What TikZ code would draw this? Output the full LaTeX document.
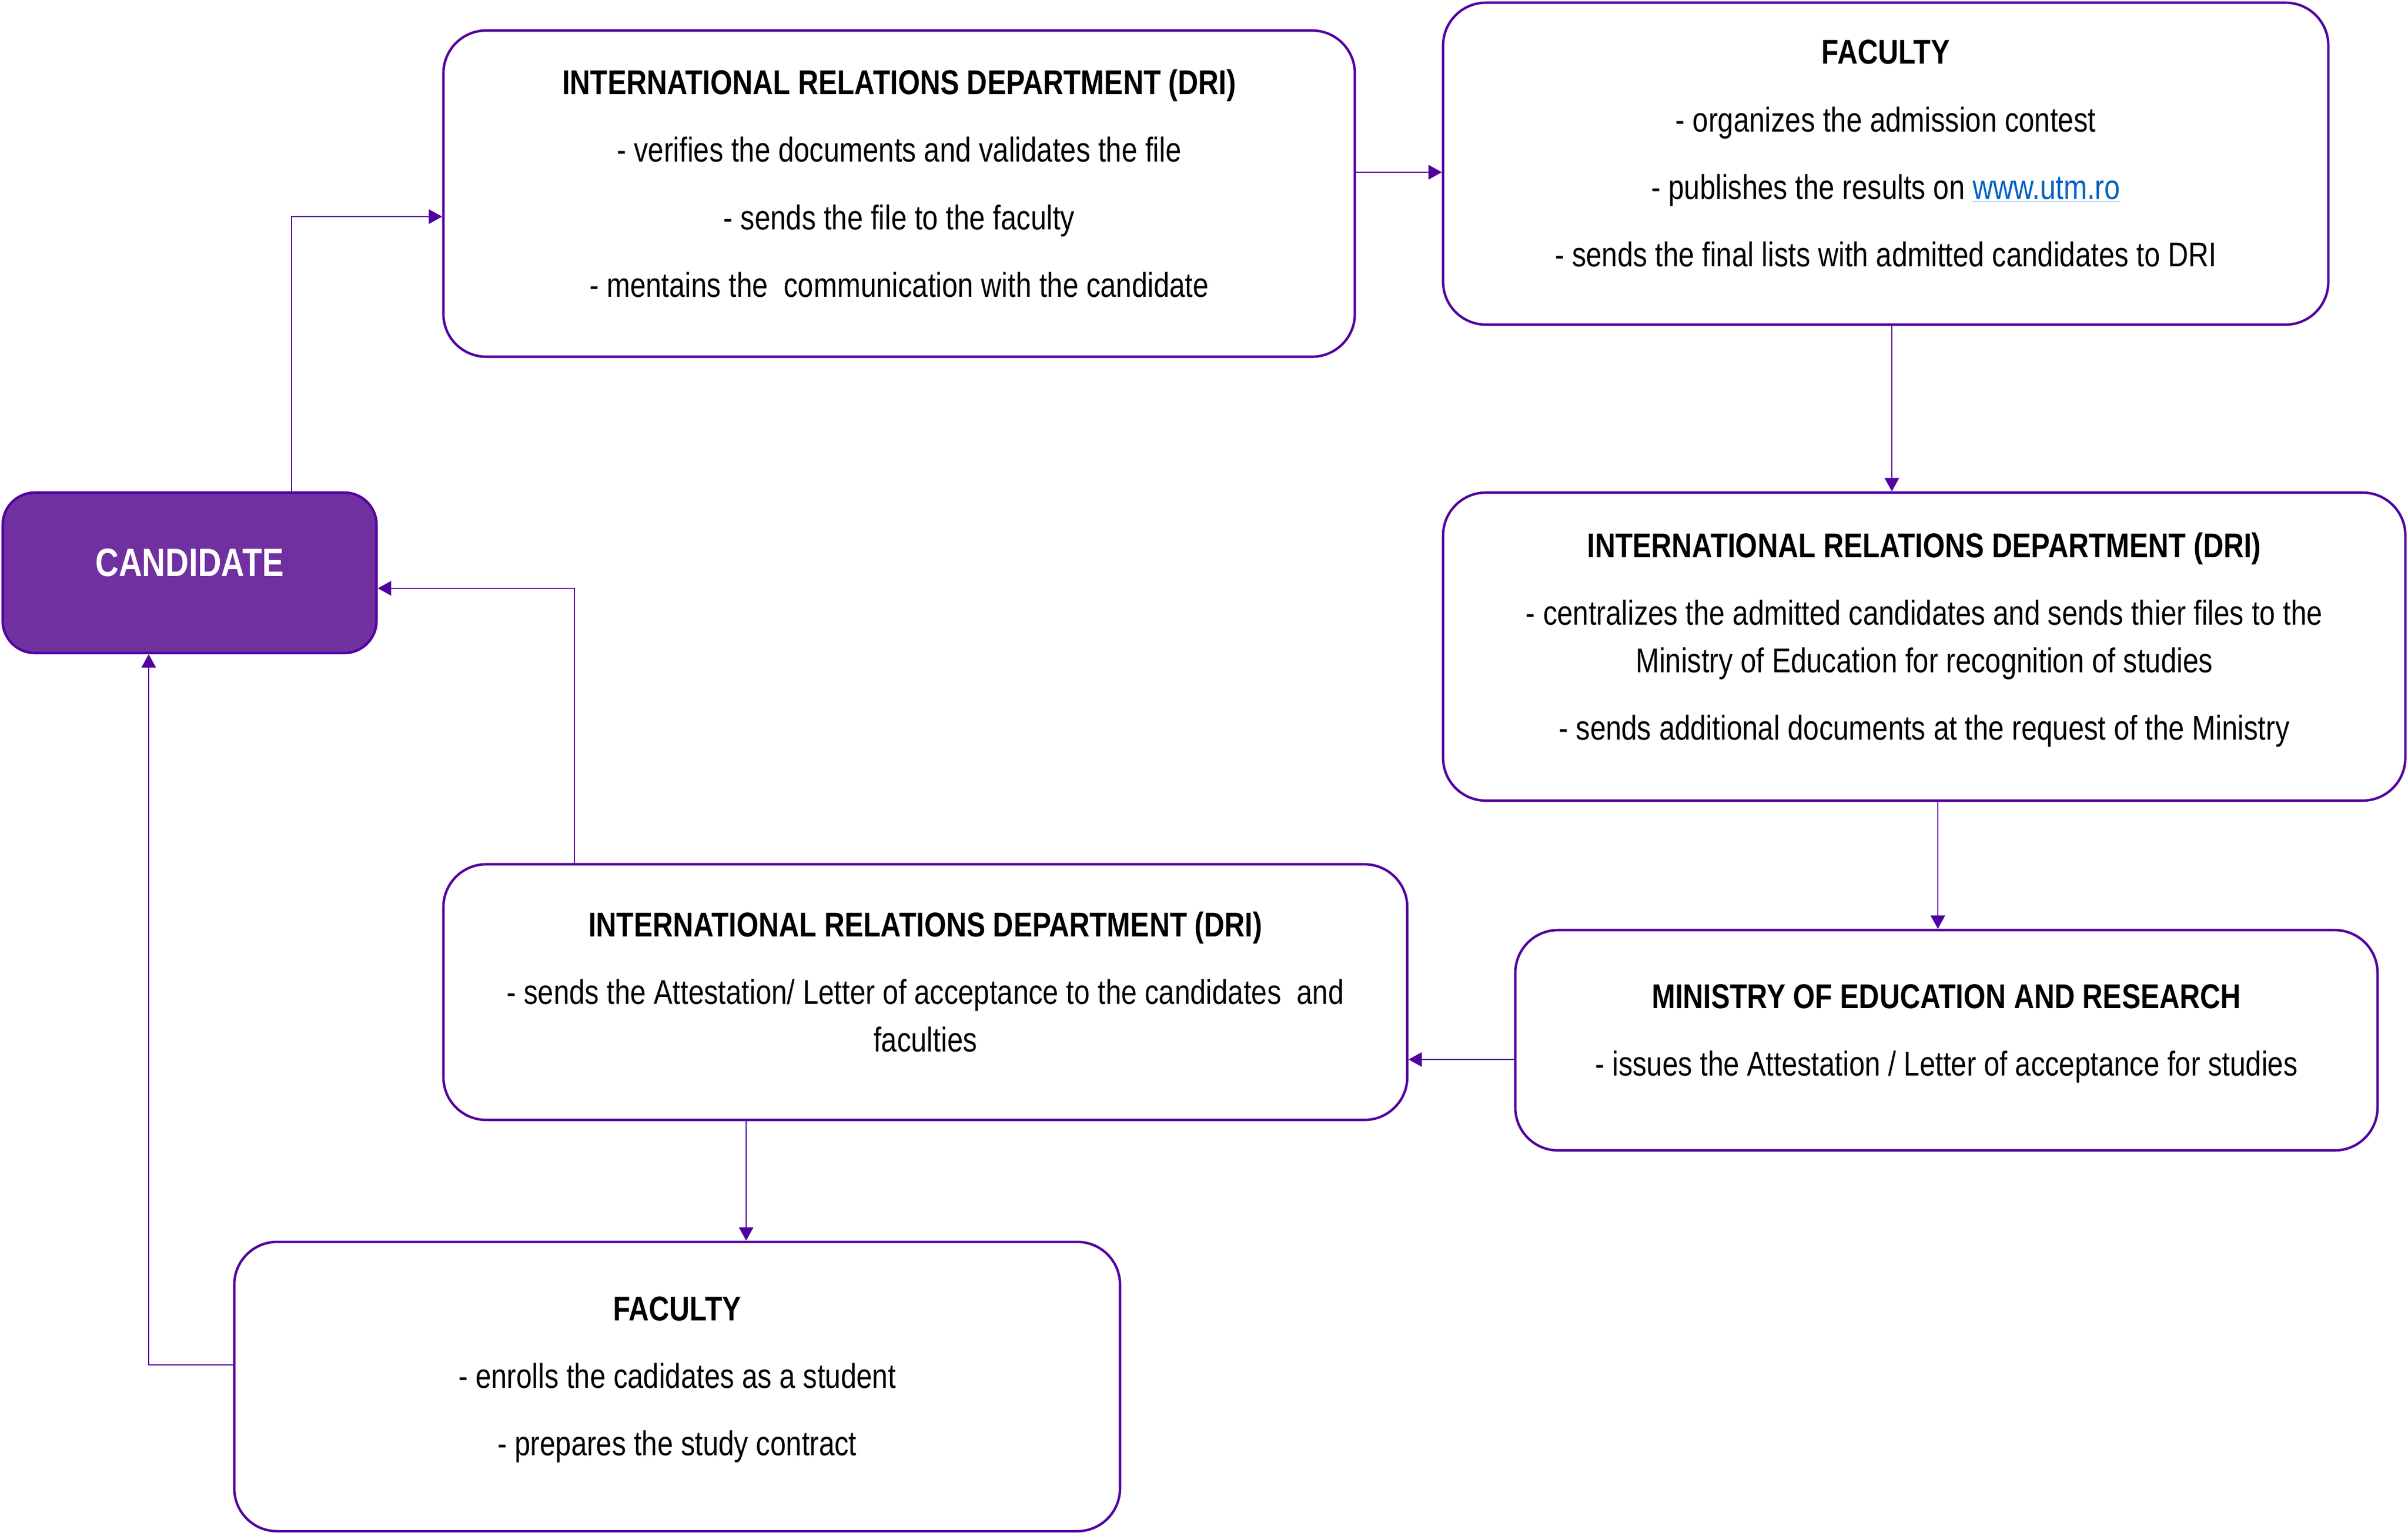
\documentclass[tikz,border=0pt]{standalone}
\usepackage{fontspec}
\setmainfont{Liberation Sans}[FakeStretch=0.82]
\usepackage{tikz}
\usetikzlibrary{arrows.meta}

\definecolor{edgepurple}{RGB}{82,0,160}
\definecolor{candpurple}{RGB}{112,48,160}
\definecolor{linkblue}{RGB}{5,99,193}
\newcommand{\weblink}[1]{\textcolor{linkblue}{\underline{#1}}}

\begin{document}
\begin{tikzpicture}[>={Triangle[length=0.25cm,width=0.27cm]},
    dept/.style={draw=edgepurple, line width=1.3pt, rounded corners=0.8cm, fill=white,
                 align=center, inner sep=0pt, font=\fontsize{18.3}{25.3}\selectfont,
                 text depth=11pt},
    cand/.style={dept, fill=candpurple, rounded corners=0.6cm, text=white,
                 font=\fontsize{21}{25.3}\selectfont\bfseries},
    flow/.style={edgepurple, line width=0.6pt},
    vh/.style={to path={|- (\tikztotarget)}},
    hv/.style={to path={-| (\tikztotarget)}}]
  \useasboundingbox (0,0) rectangle (45.02,-28.71);
  \node[cand, minimum width=6.99cm, minimum height=3.0cm]  (cand) at (3.545,-10.71)  {CANDIDATE};
  \node[dept, minimum width=17.04cm, minimum height=6.1cm] (dri1) at (16.81,-3.62)   {\textbf{INTERNATIONAL RELATIONS DEPARTMENT (DRI)}\\[10.6pt]
      - verifies the documents and validates the file\\[10.6pt]
      - sends the file to the faculty\\[10.6pt]
      - mentains the~ communication with the candidate};
  \node[dept, minimum width=16.55cm, minimum height=6.02cm] (fac1) at (35.255,-3.06) {\textbf{FACULTY}\\[10.6pt]
      - organizes the admission contest\\[10.6pt]
      - publishes the results on \weblink{www.utm.ro}\\[10.6pt]
      - sends the final lists with admitted candidates to DRI};
  \node[dept, minimum width=17.99cm, minimum height=5.76cm] (dri2) at (35.975,-12.09) {\textbf{INTERNATIONAL RELATIONS DEPARTMENT (DRI)}\\[10.6pt]
      - centralizes the admitted candidates and sends thier files to the\\
      Ministry of Education for recognition of studies\\[10.6pt]
      - sends additional documents at the request of the Ministry};
  \node[dept, minimum width=16.12cm, minimum height=4.12cm] (mer)  at (36.39,-19.45)  {\textbf{MINISTRY OF EDUCATION AND RESEARCH}\\[10.6pt]
      - issues the Attestation / Letter of acceptance for studies};
  \node[dept, minimum width=18.02cm, minimum height=4.78cm] (dri3) at (17.30,-18.55)  {\textbf{INTERNATIONAL RELATIONS DEPARTMENT (DRI)}\\[10.6pt]
      - sends the Attestation/ Letter of acceptance to the candidates~ and\\
      faculties};
  \node[dept, minimum width=16.56cm, minimum height=5.41cm] (fac2) at (12.66,-25.925) {\textbf{FACULTY}\\[10.6pt]
      - enrolls the cadidates as a student\\[10.6pt]
      - prepares the study contract};
  \path[->, flow] ([xshift=1.905cm]cand.north) edge[vh] ([yshift=-0.43cm]dri1.west);
  \path[->, flow] ([yshift=0.40cm]dri1.east)   edge     ([yshift=0.40cm]dri1.east -| fac1.west);
  \path[->, flow] ([xshift=0.115cm]fac1.south) edge     ([xshift=0.115cm]fac1.south |- dri2.north);
  \path[->, flow] ([xshift=0.255cm]dri2.south) edge     ([xshift=0.255cm]dri2.south |- mer.north);
  \path[->, flow] ([yshift=-0.36cm]mer.west)   edge     ([yshift=-0.36cm]mer.west -| dri3.east);
  \path[->, flow] ([xshift=-6.56cm]dri3.north) edge[vh] ([yshift=-0.29cm]cand.east);
  \path[->, flow] ([xshift=-3.35cm]dri3.south) edge     ([xshift=-3.35cm]dri3.south |- fac2.north);
  \path[->, flow] ([yshift=0.405cm]fac2.west)  edge[hv] ([xshift=-0.765cm]cand.south);
\end{tikzpicture}
\end{document}
